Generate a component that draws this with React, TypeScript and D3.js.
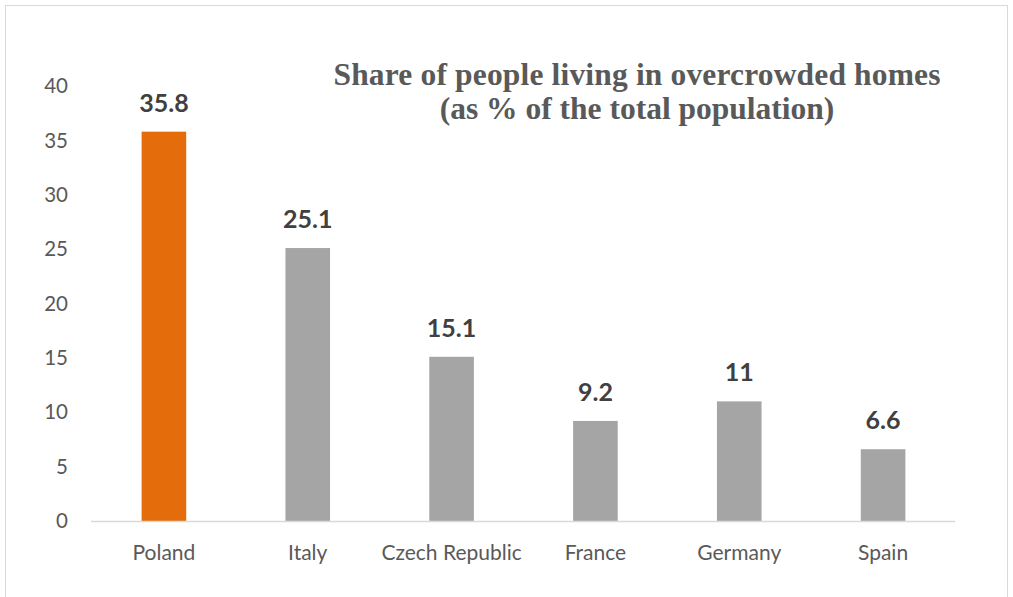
import React from "react";
import * as d3 from "d3";

const categories = ["Poland", "Italy", "Czech Republic", "France", "Germany", "Spain"];
const values = [35.8, 25.1, 15.1, 9.2, 11, 6.6];
const valueLabels = ["35.8", "25.1", "15.1", "9.2", "11", "6.6"];
const highlight = ["Poland"];
const yTicks = [0, 5, 10, 15, 20, 25, 30, 35, 40];
const titleLines = ["Share of people living in overcrowded homes", "(as % of the total population)"];

const W = 1013;
const H = 597;

export default function App() {
  const x = d3.scaleBand<string>().domain(categories).range([92, 955]).paddingInner(0.69).paddingOuter(0.345);
  const y = d3.scaleLinear().domain([0, 40]).range([521, 86]);
  const font = "Lato, 'Noto Sans', sans-serif";
  return (
    <svg width={W} height={H} style={{ position: "absolute", left: 0, top: 0 }}>
      <rect x={0} y={0} width={W} height={H} fill="#fff" />
      <rect x={5.5} y={5.5} width={1002} height={600} fill="none" stroke="#d9d9d9" strokeWidth={1} />
      {yTicks.map((t) => (
        <text key={t} x={68} y={y(t)} dy="0.35em" textAnchor="end" fontFamily={font} fontSize={20.5} fill="#595959">
          {t}
        </text>
      ))}
      {categories.map((c, i) => (
        <rect key={c} x={x(c)} y={y(values[i])} width={x.bandwidth()} height={y(0) - y(values[i])}
          fill={highlight.includes(c) ? "#E46C0A" : "#A5A5A5"} />
      ))}
      <line x1={91} x2={955} y1={521.5} y2={521.5} stroke="#d9d9d9" strokeWidth={1.5} />
      {categories.map((c, i) => (
        <text key={c} x={(x(c) as number) + x.bandwidth() / 2} y={y(values[i]) - 20} textAnchor="middle"
          fontFamily={font} fontWeight="bold" fontSize={25} fill="#404040">
          {valueLabels[i]}
        </text>
      ))}
      {categories.map((c) => (
        <text key={c} x={(x(c) as number) + x.bandwidth() / 2} y={560} textAnchor="middle" fontFamily={font}
          fontSize={21} fill="#595959">
          {c}
        </text>
      ))}
      {titleLines.map((l, i) => (
        <text key={i} x={637} y={85 + i * 34} textAnchor="middle" fontFamily="'Liberation Serif', 'Times New Roman', serif"
          fontWeight="bold" fontSize={31.5} fill="#595959" textLength={i === 0 ? 607 : undefined}>
          {l}
        </text>
      ))}
    </svg>
  );
}
